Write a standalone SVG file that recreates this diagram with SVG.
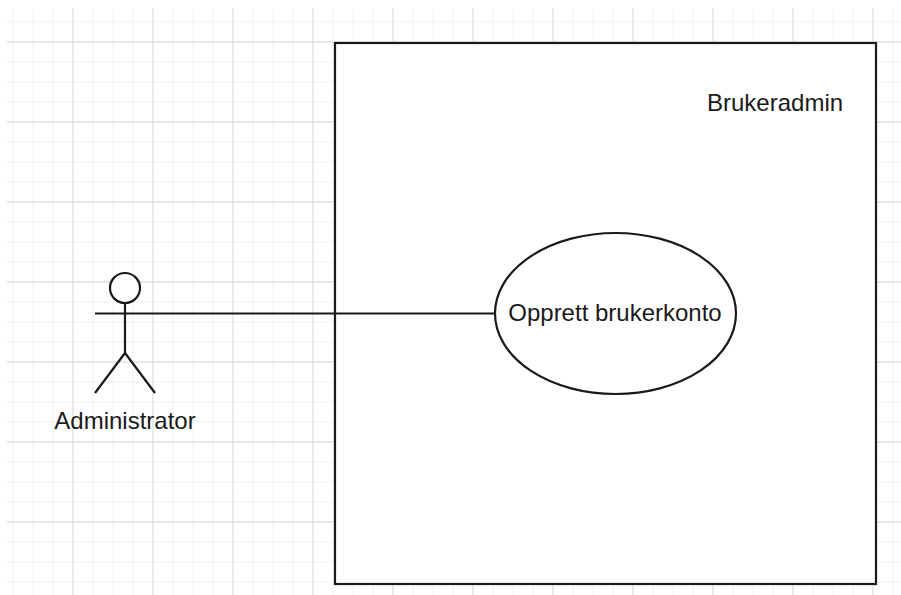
<svg xmlns="http://www.w3.org/2000/svg" width="901" height="595" viewBox="0 0 901 595">
<defs>
<style>
.minor{stroke:#f5f5f5;stroke-width:1.3;fill:none}
.major{stroke:#dfdfdf;stroke-width:1.3;fill:none}
.s{stroke:#1a1a1a;stroke-width:2.2;fill:none}
.f{fill:#fff}
text{font-family:"Liberation Sans",Arial,sans-serif;font-size:24px;fill:#1a1a1a}
</style>
</defs>
<rect width="901" height="595" fill="#fff"/>
<g id="grid">
<path class="minor" d="M13 8V595M33 8V595M53 8V595M93 8V595M113 8V595M133 8V595M173 8V595M193 8V595M213 8V595M253 8V595M273 8V595M293 8V595M333 8V595M353 8V595M373 8V595M413 8V595M433 8V595M453 8V595M493 8V595M513 8V595M533 8V595M573 8V595M593 8V595M613 8V595M653 8V595M673 8V595M693 8V595M733 8V595M753 8V595M773 8V595M813 8V595M833 8V595M853 8V595M893 8V595"/>
<path class="minor" d="M7 21.500H901M7 62H901M7 82H901M7 102H901M7 142H901M7 162H901M7 182H901M7 222H901M7 242H901M7 262H901M7 302H901M7 322H901M7 342H901M7 382H901M7 402H901M7 422H901M7 462H901M7 482H901M7 502H901M7 542H901M7 562H901M7 582H901"/>
<path class="major" d="M73 8V595M153 8V595M233 8V595M313 8V595M393 8V595M473 8V595M553 8V595M633 8V595M713 8V595M793 8V595M873 8V595"/>
<path class="major" d="M7 42H901M7 122H901M7 202H901M7 282H901M7 362H901M7 442H901M7 522H901"/>
</g>
<g id="system">
<rect class="s f" x="335" y="43" width="541" height="541"/>
<text x="707" y="111">Brukeradmin</text>
</g>
<g id="actor">
<circle class="s f" cx="125" cy="288" r="15"/>
<path class="s" d="M125 303V353M95 313.500H155M125 353L95 393M125 353L155 393"/>
<text x="125" y="429" text-anchor="middle">Administrator</text>
</g>
<g id="connectors">
<path class="s" d="M155 313.500H495"/>
</g>
<g id="usecase">
<ellipse class="s f" cx="615.500" cy="313.500" rx="120.500" ry="80.500"/>
<text x="615" y="321" text-anchor="middle">Opprett brukerkonto</text>
</g>
</svg>
